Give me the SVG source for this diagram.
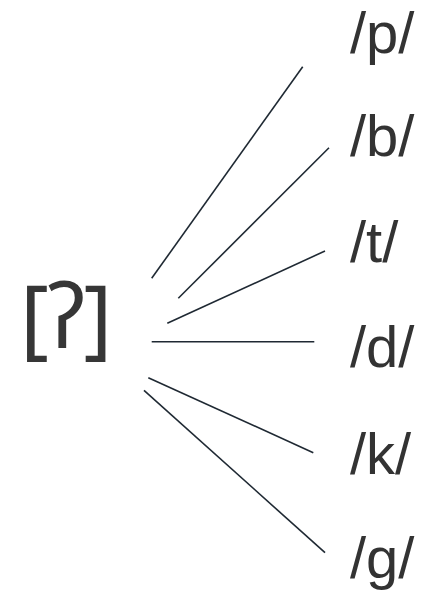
<svg xmlns="http://www.w3.org/2000/svg" width="421" height="594" viewBox="0 0 421 594">
<style>
.lbl{font-family:"Liberation Sans",Arial,sans-serif;font-size:58px;fill:#333333}
.src{font-family:"Noto Sans","DejaVu Sans",sans-serif;font-size:88px;fill:#363636;letter-spacing:-1.5px}
.edge{stroke:#1f2933;stroke-width:1.6;fill:none;stroke-linecap:butt}
</style>
<rect width="421" height="594" fill="#ffffff"/>
<g id="connectors">
<line class="edge" x1="151.7" y1="278.3" x2="302.7" y2="66.7"/>
<line class="edge" x1="178.3" y1="298.3" x2="329" y2="147.7"/>
<line class="edge" x1="167.3" y1="323.3" x2="325" y2="251"/>
<line class="edge" x1="151.7" y1="341.8" x2="314.3" y2="341.8"/>
<line class="edge" x1="148.3" y1="377.7" x2="313.3" y2="452.7"/>
<line class="edge" x1="144" y1="390.3" x2="325" y2="552.7"/>
</g>
<g id="source"><text class="src" x="20" y="348">[ʔ]</text></g>
<g id="p"><text class="lbl" x="350" y="53">/p/</text></g>
<g id="b"><text class="lbl" x="350" y="156">/b/</text></g>
<g id="t"><text class="lbl" x="350" y="262">/t/</text></g>
<g id="d"><text class="lbl" x="350" y="367">/d/</text></g>
<g id="k"><text class="lbl" x="350" y="474">/k/</text></g>
<g id="g"><text class="lbl" x="350" y="578">/g/</text></g>
</svg>
